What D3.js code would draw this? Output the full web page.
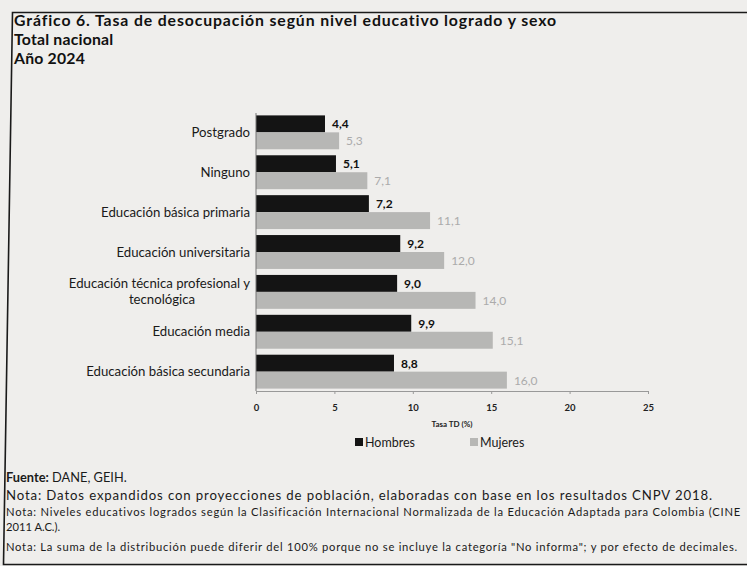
<!DOCTYPE html>
<html><head><meta charset="utf-8">
<script src="https://cdn.jsdelivr.net/npm/d3@7"></script>
<style>
html,body{margin:0;padding:0;background:#efeeec;}
svg{display:block;}
</style></head>
<body>
<script>
const categories = ["Postgrado","Ninguno","Educación básica primaria","Educación universitaria","Educación técnica profesional y tecnológica","Educación media","Educación básica secundaria"];
const categoryLines = [["Postgrado"],["Ninguno"],["Educación básica primaria"],["Educación universitaria"],["Educación técnica profesional y","tecnológica"],["Educación media"],["Educación básica secundaria"]];
const hombres = [4.4, 5.1, 7.2, 9.2, 9.0, 9.9, 8.8];
const mujeres = [5.3, 7.1, 11.1, 12.0, 14.0, 15.1, 16.0];
const series = ["Hombres","Mujeres"];
const xTicks = [0,5,10,15,20,25];
const titleLines = ["Gráfico 6. Tasa de desocupación según nivel educativo logrado y sexo","Total nacional","Año 2024"];

const W = 747, H = 566;
const font = "Lato, 'Open Sans', sans-serif";
const svg = d3.select("body").append("svg").attr("width", W).attr("height", H);
svg.append("rect").attr("width", W).attr("height", H).attr("fill", "#efeeec");

function fitLS(sel, target){
  const w = sel.node().getComputedTextLength();
  const n = sel.text().length;
  if (w > 0 && n > 1) sel.attr("letter-spacing", ((target - w) / n).toFixed(3));
  return sel;
}
function fitFS(sel, target){
  const fs = parseFloat(sel.attr("font-size"));
  const w = sel.node().getComputedTextLength();
  if (w > 0) sel.attr("font-size", (fs * target / w).toFixed(2));
  return sel;
}

// frame
svg.append("path").attr("d", `M${W+2},12.5 H12.5 L3.5,564.5 H${W+2}`).attr("fill","none").attr("stroke","#1a1a1a").attr("stroke-width",1.6);

// title
titleLines.forEach((t,i)=>{
  const el = svg.append("text").attr("x", 14).attr("y", 26 + i*19)
    .attr("font-family", font).attr("font-weight", 700).attr("font-size", 15.8)
    .attr("fill", "#111").text(t);
  if (i === 0) fitLS(el, 543);
  else el.attr("letter-spacing", 0.2);
});

const x = d3.scaleLinear().domain([0,25]).range([256, 648]);
const y = d3.scaleBand().domain(categories).range([113, 391]).paddingInner(0.15).paddingOuter(0.06);
const sub = d3.scaleBand().domain(series).range([0, y.bandwidth()]);
const colors = {Hombres:"#141414", Mujeres:"#b7b7b5"};

const data = categories.map((c,i)=>({c, lines: categoryLines[i], vals:[{s:"Hombres",v:hombres[i]},{s:"Mujeres",v:mujeres[i]}]}));

const g = svg.append("g");
const groups = g.selectAll("g.cat").data(data).join("g").attr("transform", d=>`translate(0,${y(d.c)})`);
groups.selectAll("rect").data(d=>d.vals).join("rect")
  .attr("x", x(0)).attr("y", d=>sub(d.s)).attr("height", sub.bandwidth())
  .attr("width", d=>x(d.v)-x(0)).attr("fill", d=>colors[d.s]);
groups.selectAll("text.val").data(d=>d.vals).join("text").attr("class","val")
  .attr("x", d=>x(d.v)+7).attr("y", d=>sub(d.s)+sub.bandwidth()/2+4.5)
  .attr("font-family", font).attr("font-size", 12)
  .attr("font-weight", d=>d.s==="Hombres"?700:400)
  .attr("fill", d=>d.s==="Hombres"?"#111":"#ababab")
  .text(d=>d3.format(".1f")(d.v).replace(".", ","));

// category labels
const probe = fitFS(svg.append("text").attr("font-family", font).attr("font-size", 12).text("Educación básica secundaria"), 164);
const catFs = probe.attr("font-size");
probe.remove();
const lab = svg.append("g");
data.forEach(d=>{
  const cy = y(d.c) + y.bandwidth()/2;
  const n = d.lines.length;
  d.lines.forEach((ln,j)=>{
    lab.append("text").attr("x", n>1 && j===1 ? 162 : 250).attr("y", cy + 4.5 + (j-(n-1)/2)*16)
      .attr("text-anchor", n>1 && j===1 ? "middle" : "end")
      .attr("font-family", font).attr("font-size", catFs).attr("fill","#1a1a1a").text(ln);
  });
});

// axes
const yAxis = svg.append("g").attr("transform", `translate(${x(0)},0)`)
  .call(d3.axisLeft(y).tickSize(0).tickFormat(""));
yAxis.select(".domain").attr("stroke","#777").attr("d", `M0,113V391`);
const xAxis = svg.append("g").attr("transform", `translate(0,391)`)
  .call(d3.axisBottom(x).tickValues(xTicks).tickSize(3).tickPadding(10));
xAxis.select(".domain").attr("stroke","#999");
xAxis.selectAll(".tick line").attr("stroke","#999");
xAxis.selectAll(".tick text").attr("font-family", font).attr("font-size", 9.5).attr("font-weight",700).attr("fill","#222");

svg.append("text").attr("x", 452).attr("y", 427).attr("text-anchor","middle")
  .attr("font-family", font).attr("font-size", 8).attr("font-weight",700).attr("fill","#222").text("Tasa TD (%)");

// legend
const leg = svg.append("g");
const legPos = [355, 470];
series.forEach((s,i)=>{
  leg.append("rect").attr("x", legPos[i]).attr("y", 438).attr("width", 8).attr("height", 8).attr("fill", colors[s]);
  leg.append("text").attr("x", legPos[i]+10).attr("y", 446.5).attr("font-family", font).attr("font-size", 12.5).attr("fill","#1a1a1a").text(s);
});

// footer
const foot = svg.append("g").attr("font-family", font).attr("fill","#1a1a1a");
const f1 = foot.append("text").attr("x", 6).attr("y", 482).attr("font-size", 12.8);
f1.append("tspan").attr("font-weight",700).text("Fuente:");
f1.append("tspan").text(" DANE, GEIH.");
fitLS(foot.append("text").attr("x", 6).attr("y", 500).attr("font-size", 13.2).text("Nota: Datos expandidos con proyecciones de población, elaboradas con base en los resultados CNPV 2018."), 707);
fitLS(foot.append("text").attr("x", 6).attr("y", 516).attr("font-size", 11.2).text("Nota: Niveles educativos logrados según la Clasificación Internacional Normalizada de la Educación Adaptada para Colombia (CINE"), 735);
foot.append("text").attr("x", 6).attr("y", 531).attr("font-size", 11.2).text("2011 A.C.).");
fitLS(foot.append("text").attr("x", 6).attr("y", 551).attr("font-size", 11.2).text("Nota: La suma de la distribución puede diferir del 100% porque no se incluye la categoría \"No informa\"; y por efecto de decimales."), 732);
</script>
</body></html>
